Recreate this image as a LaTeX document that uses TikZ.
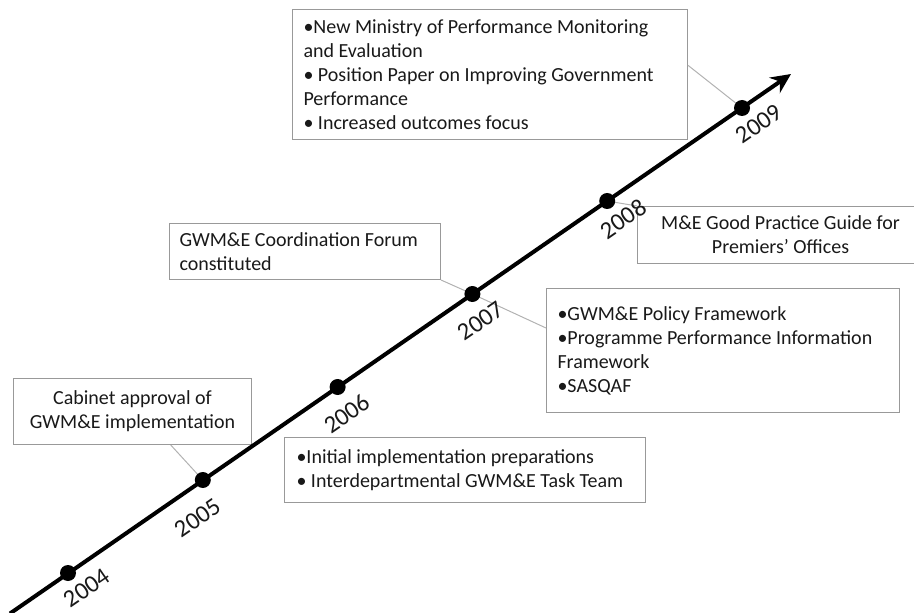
\documentclass[tikz,border=0pt]{standalone}
\usepackage{fontspec}
\setmainfont{Carlito}
\usetikzlibrary{arrows.meta,calc}
\begin{document}
\begin{tikzpicture}[x=0.75pt,y=-0.75pt,
  box/.style={draw=black!40, line width=0.75pt, font=\fontsize{15pt}{18pt}\selectfont, text=black!90, inner ysep=0pt},
  lbox/.style={box, align=flush left, anchor=north west},
  cbox/.style={box, align=flush center, anchor=north west, inner xsep=0pt},
  link/.style={draw=black!30, line width=0.75pt},
  dot/.style={circle, fill=black, inner sep=0pt, minimum size=12pt},
  yr/.style={rotate=34.6, font=\fontsize{18.5pt}{20pt}\selectfont, text=black!90, inner sep=0pt}]
\useasboundingbox (0,0) rectangle (914,613);
\clip (0,0) rectangle (914,613);
% boxes
\node[lbox, inner xsep=8.25pt, text width=279.75pt, minimum height=97.5pt] (A) at (292,9)
  {•New Ministry of Performance Monitoring\\and Evaluation\\• Position Paper on Improving Government\\Performance\\• Increased outcomes focus};
\node[cbox, text width=214.5pt, minimum height=42.75pt] (B) at (637,206)
  {M\&E Good Practice Guide for\\Premiers’ Offices};
\node[lbox, inner xsep=7.5pt, text width=188.25pt, minimum height=42pt] (C) at (169,223)
  {GWM\&E Coordination Forum\\constituted};
\node[lbox, inner xsep=8.25pt, text width=248.25pt, minimum height=93pt] (D) at (546,288)
  {•GWM\&E Policy Framework\\•Programme Performance Information\\Framework\\•SASQAF};
\node[cbox, text width=178.5pt, minimum height=49.5pt] (E) at (13,378)
  {Cabinet approval of\\GWM\&E implementation};
\node[lbox, inner xsep=9pt, text width=252.75pt, minimum height=48.75pt] (F) at (284,437)
  {•Initial implementation preparations\\• Interdepartmental GWM\&E Task Team};
% dot positions
\coordinate (p2004) at (68,573);
\coordinate (p2005) at (202.8,480);
\coordinate (p2006) at (337.6,387);
\coordinate (p2007) at (472.4,294);
\coordinate (p2008) at (607.2,201);
\coordinate (p2009) at (742,108);
% connectors
\draw[link] ($(A.north east)!0.43!(A.south east)$) -- (p2009);
\draw[link] (p2008) -- (B.north west);
\draw[link] (C.south east) -- (p2007);
\draw[link] (p2007) -- ($(D.north west)!0.32!(D.south west)$);
\draw[link] ($(E.south west)!0.66!(E.south east)$) -- (p2005);
% main arrow
\coordinate (start) at (10,613.5);
\coordinate (tip) at (791,74);
\draw[line width=3pt, -{Stealth[length=15pt,width=14pt,inset=5pt]}] (start) -- (tip);
% dots
\node[dot] (d2004) at (p2004) {};
\node[dot] (d2005) at (p2005) {};
\node[dot] (d2006) at (p2006) {};
\node[dot] (d2007) at (p2007) {};
\node[dot] (d2008) at (p2008) {};
\node[dot] (d2009) at (p2009) {};
% years
\node[yr] (y2004) at (87,588) {2004};
\node[yr] (y2005) at (198,518) {2005};
\node[yr] (y2006) at (347,414) {2006};
\node[yr] (y2007) at (481,321) {2007};
\node[yr] (y2008) at (623,219) {2008};
\node[yr] (y2009) at (759,124) {2009};
\end{tikzpicture}
\end{document}
